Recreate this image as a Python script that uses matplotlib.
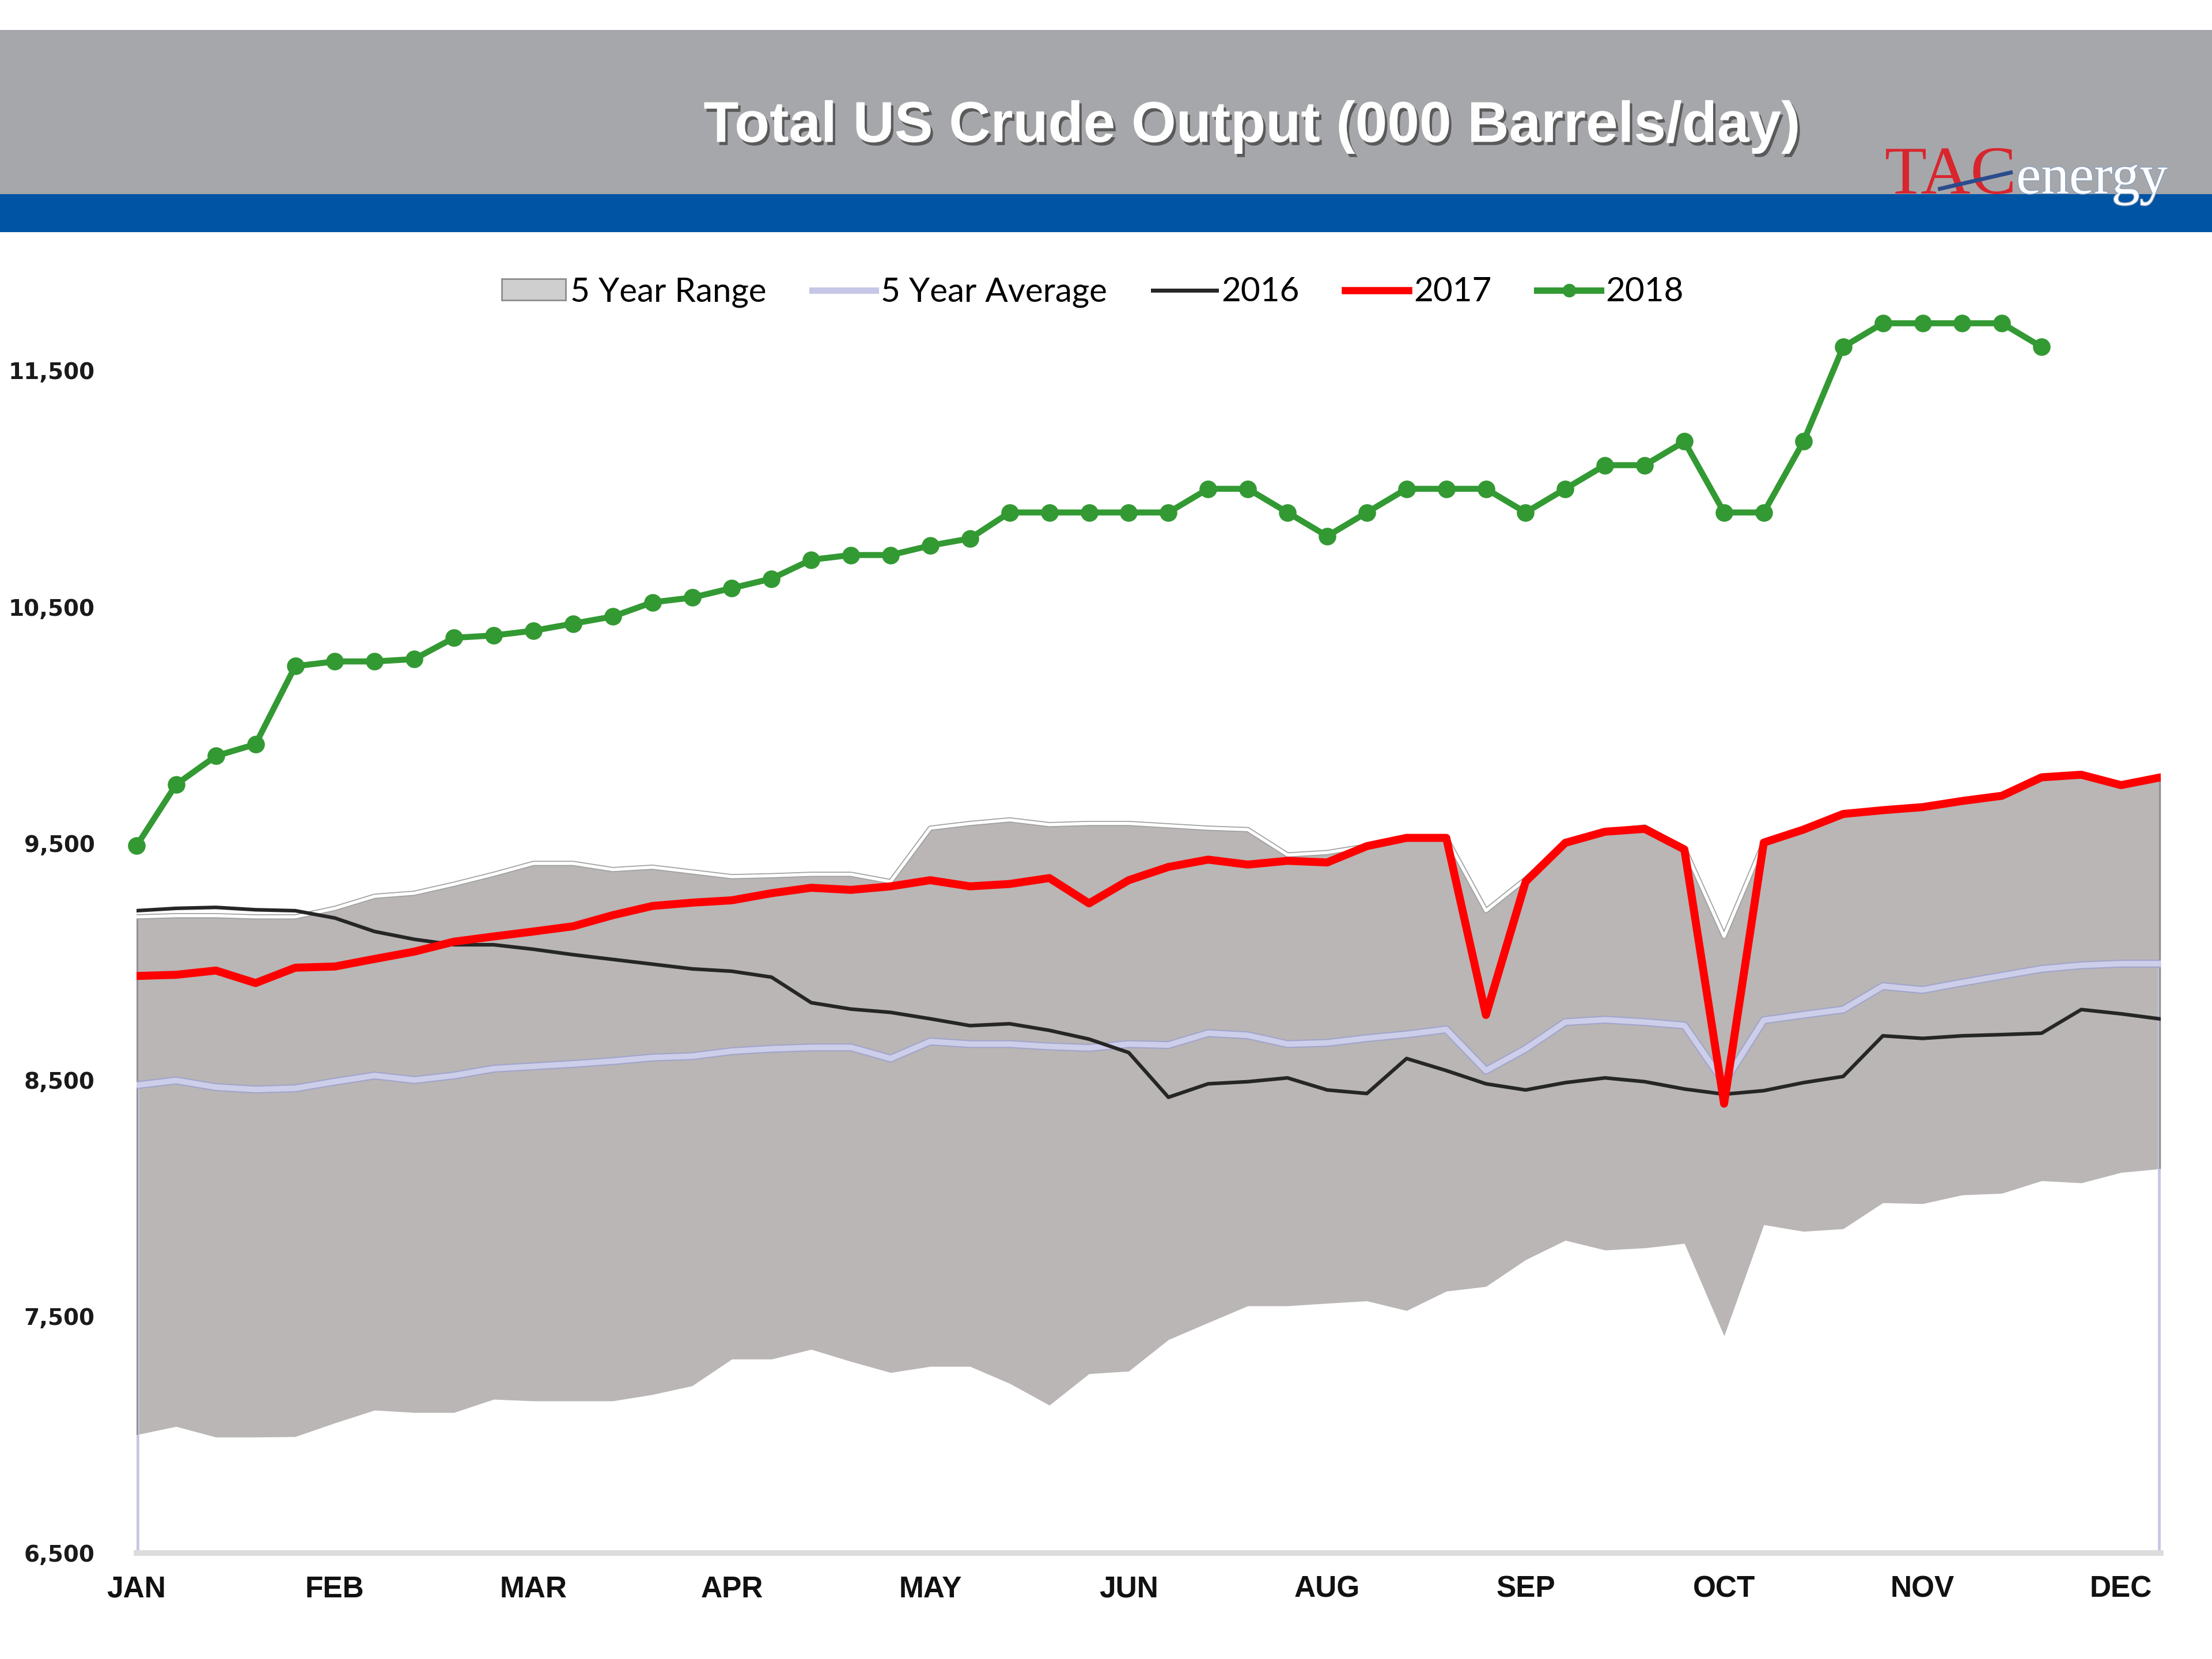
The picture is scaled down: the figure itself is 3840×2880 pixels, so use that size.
import matplotlib
matplotlib.use("Agg")
import matplotlib.pyplot as plt
import matplotlib.patheffects as pe
from matplotlib.patches import Rectangle, Patch
from matplotlib.lines import Line2D
import numpy as np

# ---------------- data (weekly, 52 weeks) ----------------
month_labels = ["JAN", "FEB", "MAR", "APR", "MAY", "JUN", "AUG", "SEP", "OCT", "NOV", "DEC"]
month_ticks = [0, 5, 10, 15, 20, 25, 30, 35, 40, 45, 50]
y_ticks = [6500, 7500, 8500, 9500, 10500, 11500]

range_low = [7000, 7035, 6990, 6990, 6992, 7050, 7104, 7094, 7094, 7150,
             7143, 7143, 7143, 7170, 7207, 7320, 7320, 7361, 7310, 7263,
             7289, 7289, 7217, 7125, 7258, 7269, 7402, 7474, 7545, 7545,
             7556, 7566, 7525, 7607, 7627, 7740, 7822, 7781, 7790, 7809,
             7418, 7888, 7860, 7871, 7981, 7977, 8014, 8021, 8074, 8065,
             8109, 8125]
range_high = [9190, 9195, 9195, 9190, 9190, 9226, 9277, 9290, 9328, 9370,
              9416, 9416, 9390, 9400, 9380, 9360, 9364, 9370, 9370, 9339,
              9565, 9585, 9600, 9580, 9585, 9585, 9575, 9565, 9559, 9452,
              9462, 9489, 9524, 9524, 9216, 9350, 9503, 9550, 9570, 9480,
              9107, 9504, 9559, 9625, 9641, 9654, 9680, 9702, 9780, 9791,
              9747, 9780]
avg5 = [8478, 8498, 8470, 8460, 8465, 8493, 8519, 8500, 8519, 8548,
        8558, 8568, 8580, 8595, 8601, 8622, 8632, 8638, 8638, 8591,
        8663, 8652, 8652, 8642, 8636, 8652, 8648, 8698, 8689, 8652,
        8657, 8677, 8693, 8714, 8540, 8632, 8745, 8755, 8745, 8731,
        8489, 8753, 8776, 8798, 8897, 8881, 8912, 8941, 8970, 8985,
        8992, 8992]
y2016 = [9216, 9226, 9230, 9220, 9216, 9185, 9128, 9095, 9072, 9072,
         9053, 9030, 9010, 8990, 8970, 8960, 8935, 8827, 8800, 8786,
         8759, 8730, 8738, 8710, 8673, 8616, 8427, 8484, 8493, 8509,
         8458, 8443, 8591, 8540, 8484, 8458, 8489, 8509, 8493, 8462,
         8440, 8455, 8489, 8515, 8687, 8676, 8687, 8692, 8698, 8798,
         8780, 8758]
y2017 = [8940, 8945, 8963, 8910, 8975, 8980, 9012, 9043, 9085, 9107,
         9128, 9150, 9197, 9236, 9250, 9260, 9290, 9313, 9304, 9319,
         9345, 9319, 9329, 9354, 9247, 9345, 9401, 9432, 9411, 9427,
         9420, 9489, 9524, 9524, 8775, 9339, 9503, 9550, 9562, 9475,
         8400, 9504, 9559, 9625, 9641, 9654, 9680, 9702, 9780, 9791,
         9747, 9780]
y2018 = [9490, 9750, 9870, 9920, 10250, 10270, 10270, 10280, 10370, 10380,
         10400, 10430, 10460, 10520, 10540, 10580, 10620, 10700, 10720, 10720,
         10760, 10790, 10900, 10900, 10900, 10900, 10900, 11000, 11000, 10900,
         10800, 10900, 11000, 11000, 11000, 10900, 11000, 11100, 11100, 11200,
         10900, 10900, 11200, 11600, 11700, 11700, 11700, 11700, 11600]

y_min, y_max = 6500, 12000

# ---------------- figure ----------------
fig = plt.figure(figsize=(38.4, 28.8), dpi=100)
fig.patch.set_facecolor("white")

# header bands
fig.patches.append(Rectangle((0, 0.883), 1, 0.099, transform=fig.transFigure,
                             facecolor="#A6A7AA", edgecolor="none", zorder=0))
fig.patches.append(Rectangle((0, 0.860), 1, 0.023, transform=fig.transFigure,
                             facecolor="#0054A4", edgecolor="none", zorder=0))

fig.text(0.566, 0.9235, "Total US Crude Output (000 Barrels/day)",
         ha="center", va="center", color="white", fontsize=72,
         fontweight="bold", family="Liberation Sans",
         path_effects=[pe.withSimplePatchShadow(offset=(3, -4),
                                                shadow_rgbFace="#3a3a3a",
                                                alpha=0.7)])

# logo
fig.text(0.852, 0.8835, "TAC", ha="left", va="baseline", color="#D8262E",
         fontsize=86, family="Liberation Serif")
fig.text(0.9115, 0.8835, "energy", ha="left", va="baseline", color="white",
         fontsize=70, family="Liberation Serif",
         path_effects=[pe.withStroke(linewidth=2, foreground="#8aa0c0")])
fig.lines.append(Line2D([0.877, 0.909], [0.8862, 0.8960], transform=fig.transFigure,
                        color="#2B4C8C", linewidth=5, zorder=5))

# ---------------- axes ----------------
ax = fig.add_axes([0.0617, 0.0639, 0.9151, 0.7840])
x = np.arange(len(range_low))
x18 = np.arange(len(y2018))

ax.fill_between(x, range_low, range_high, color="#B9B6B5", linewidth=0, zorder=1)
ax.plot(x, range_high, color="white", linewidth=4, zorder=2,
        path_effects=[pe.Stroke(linewidth=6.5, foreground="#A0A0A0"), pe.Normal()])

# edge artefacts of the area chart
ax.vlines([x[0], x[-1]], [y_min, y_min], [avg5[0], avg5[-1]], color="#C6C7E2",
          linewidth=7, zorder=1.5)
ax.vlines([x[0], x[-1]], [range_low[0], range_low[-1]], [range_high[0], range_high[-1]],
          color="#8E8E8E", linewidth=4, zorder=1.6)

ax.plot(x, avg5, color="#CDCEEA", linewidth=7, zorder=3, solid_capstyle="butt",
        path_effects=[pe.Stroke(linewidth=10, foreground="#A2A4CA"), pe.Normal()])
ax.plot(x, y2016, color="#262626", linewidth=4.5, zorder=4)
ax.plot(x, y2017, color="#FF0000", linewidth=10, zorder=5)
ax.plot(x18, y2018, color="#339933", linewidth=7.5, marker="o", markersize=21,
        zorder=6, clip_on=False)

ax.set_xlim(0, 51)
ax.set_ylim(y_min, y_max)

for s in ["top", "right", "left"]:
    ax.spines[s].set_visible(False)
ax.spines["bottom"].set_color("#DCDCDC")
ax.spines["bottom"].set_linewidth(7)

ax.set_yticks(y_ticks)
ax.set_yticklabels([f"{v:,}" for v in y_ticks], fontsize=28, fontweight="bold",
                   family="DejaVu Sans", color="#1a1a1a")
ax.tick_params(axis="y", length=0, pad=52)

ax.set_xticks(month_ticks)
ax.set_xticklabels(month_labels, fontsize=37, fontweight="bold",
                   family="Liberation Sans", color="#111111")
ax.tick_params(axis="x", length=0, pad=28)

# legend
handles = [
    Patch(facecolor="#CFCFCF", edgecolor="#8C8C8C", linewidth=2),
    Line2D([], [], color="#C6C7E6", linewidth=8),
    Line2D([], [], color="#262626", linewidth=5),
    Line2D([], [], color="#FF0000", linewidth=9),
    Line2D([], [], color="#339933", linewidth=8, marker="o", markersize=16),
]
labels = ["5 Year Range", "5 Year Average", "2016", "2017", "2018"]
fig.legend(handles, labels, loc="center", bbox_to_anchor=(0.494, 0.824), ncol=5,
           frameon=False, prop={"family": "Lato", "size": 42},
           handlelength=1.9, handletextpad=0.15, columnspacing=1.35, handleheight=0.6)

fig.savefig("out.png", dpi=100, facecolor="white")
